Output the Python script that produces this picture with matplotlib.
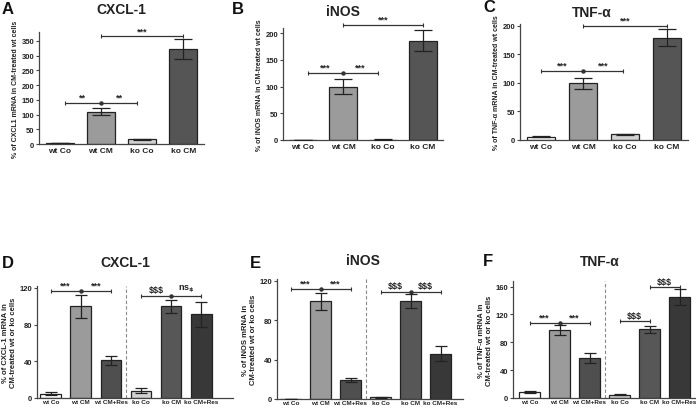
import matplotlib
matplotlib.use("Agg")
import matplotlib.pyplot as plt
from matplotlib import font_manager

plt.rcParams['font.family'] = ['Liberation Sans', 'DejaVu Sans']
plt.rcParams['font.weight'] = 'bold'

_names = {f.name for f in font_manager.fontManager.ttflist}
NARROW = ['Liberation Sans Narrow', 'Liberation Sans'] if 'Liberation Sans Narrow' in _names else ['Liberation Sans']

# ---------------- data ----------------
top_cats = ['wt Co', 'wt CM', 'ko Co', 'ko CM']
top_colors = ['#ffffff', '#9b9b9b', '#d2d2d2', '#555555']

cxcl_top = [3, 110, 16, 322]
cxcl_top_err = [1, 12, 2, 35]
inos_top = [0.4, 100, 0.7, 186]
inos_top_err = [0.2, 14, 0.3, 20]
tnf_top = [6, 99, 10, 179]
tnf_top_err = [1, 9.5, 1, 14.5]

bot_cats = ['wt Co', 'wt CM', 'wt CM+Res', 'ko Co', 'ko CM', 'ko CM+Res']
bot_colors = ['#ffffff', '#9b9b9b', '#4f4f4f', '#d2d2d2', '#575757', '#383838']

cxcl_bot = [4.5, 100, 41, 8, 100, 91]
cxcl_bot_err = [1.5, 12.5, 5, 2.4, 7, 14]
inos_bot = [0.3, 99.5, 19.5, 1.6, 99.5, 46]
inos_bot_err = [0.1, 8.7, 2.3, 0.5, 7.3, 7.5]
tnf_bot = [8.4, 98, 57, 5, 99, 145]
tnf_bot_err = [1, 7, 7, 0.8, 5, 12]

# significance brackets: (x0, xmid, x1, y, left label, right label)
A_brackets = [(0.12, 1, 1.88, 138, '**', '**'), (1, None, 3, 365, '***', None)]
B_brackets = [(0.12, 1, 1.88, 125, '***', '***'), (1, None, 3, 215, '***', None)]
C_brackets = [(0.0, 1, 1.95, 120, '***', '***'), (1, None, 3, 199, '***', None)]
D_brackets = [(0, 1, 2, 117, '***', '***'), (3, 4, 5, 111.5, '$$$', r'ns$_{\$}$')]
E_brackets = [(0, 1, 2, 112, '***', '***'), (3, 4, 5, 109, '$$$', '$$$')]
F_brackets = [(0, 1, 2, 108, '***', '***'), (3, None, 4, 110, '$$$', None),
              (4, None, 5, 159.5, '$$$', None)]

W, H = 696, 410
fig = plt.figure(figsize=(W / 100, H / 100), dpi=100)


def add_ax(l, t, r, b):
    return fig.add_axes([l / W, 1 - b / H, (r - l) / W, (b - t) / H])


def draw_brackets(ax, brackets, fs):
    for x0, xm, x1, y, lab1, lab2 in brackets:
        ax.plot([x0, x1], [y, y], color='#333333', lw=0.9, solid_capstyle='butt', clip_on=False)
        ax.plot([x0, x1], [y, y], ls='none', marker='|',
                ms=3.5, mew=0.8, color='#333333', clip_on=False)
        ymax = ax.get_ylim()[1]
        off = ymax * 0.012
        if xm is not None:
            ax.plot([xm], [y], marker='o', ms=2.2, color='#333333', clip_on=False)
            ax.text((x0 + xm) / 2, y + off, lab1, ha='center', va='bottom',
                    fontsize=fs, fontweight='bold', color='#222222')
            ax.text((xm + x1) / 2, y + off, lab2, ha='center', va='bottom',
                    fontsize=fs, fontweight='bold', color='#222222')
        else:
            ax.text((x0 + x1) / 2, y + off, lab1, ha='center', va='bottom',
                    fontsize=fs, fontweight='bold', color='#222222')


def panel(box, cats, vals, errs, colors, ylim, yticks, width, capsize,
          xlim, ylabel, title, letter, title_xy, letter_xy, brackets,
          tick_fs, xt_fs, yl_fs, br_fs, sep=None, xt_family=None, xt_pad=2):
    ax = add_ax(*box)
    x = list(range(len(cats)))
    ax.bar(x, vals, width=width, color=colors, edgecolor='#222222', linewidth=0.9, zorder=2)
    ax.errorbar(x, vals, yerr=errs, fmt='none', ecolor='#222222', elinewidth=0.9,
                capsize=capsize, capthick=0.9, zorder=3)
    ax.set_xlim(*xlim)
    ax.set_ylim(*ylim)
    ax.set_yticks(yticks)
    ax.set_xticks(x)
    if xt_family:
        ax.set_xticklabels(cats, fontsize=xt_fs, fontweight='bold', family=xt_family)
    else:
        ax.set_xticklabels(cats, fontsize=xt_fs, fontweight='bold')
    for lab in ax.get_yticklabels():
        lab.set_fontsize(tick_fs)
        lab.set_fontweight('bold')
    for s in ['top', 'right']:
        ax.spines[s].set_visible(False)
    for s in ['left', 'bottom']:
        ax.spines[s].set_color('#444444')
        ax.spines[s].set_linewidth(0.9)
    ax.tick_params(axis='y', length=2.5, width=0.8, pad=1, colors='#444444', labelcolor='#222222')
    ax.tick_params(axis='x', length=0, pad=xt_pad, labelcolor='#222222')
    ax.set_ylabel(ylabel, fontsize=yl_fs, fontweight='bold', labelpad=2, color='#222222')
    if sep is not None:
        ax.axvline(sep, color='#888888', lw=0.8, ls=(0, (3, 2)), zorder=1)
    draw_brackets(ax, brackets, br_fs)
    fig.text(title_xy[0] / W, 1 - title_xy[1] / H, title, ha='center', va='center',
             fontsize=10, fontweight='bold', color='#222222')
    fig.text(letter_xy[0] / W, 1 - letter_xy[1] / H, letter, ha='left', va='center',
             fontsize=12, fontweight='bold', color='#111111')
    return ax


# top row
panel((39, 33, 204, 145), top_cats, cxcl_top, cxcl_top_err, top_colors,
      (0, 380), [0, 50, 100, 150, 200, 250, 300, 350], 0.68, 6.5, (-0.5, 3.5),
      '% of CXCL1 mRNA in CM-treated wt cells', 'CXCL-1', 'A', (121, 10), (2, 9),
      A_brackets, 5.5, 6, 5, 6.5)
panel((283, 29, 443, 141), top_cats, inos_top, inos_top_err, top_colors,
      (0, 210), [0, 50, 100, 150, 200], 0.68, 6.5, (-0.5, 3.5),
      '% of iNOS mRNA in CM-treated wt cells', 'iNOS', 'B', (343, 12), (232, 9),
      B_brackets, 5.5, 6, 5, 6.5)
panel((520, 25, 688, 141), top_cats, tnf_top, tnf_top_err, top_colors,
      (0, 203), [0, 50, 100, 150, 200], 0.68, 6.5, (-0.5, 3.5),
      '% of TNF-α mRNA in CM-treated wt cells', 'TNF-α', 'C', (592, 13), (483, 8),
      C_brackets, 5.5, 6, 5, 6.5)

# bottom row
panel((37, 287, 233, 399), bot_cats, cxcl_bot, cxcl_bot_err, bot_colors,
      (0, 122), [0, 40, 80, 120], 0.68, 4.5, (-0.45, 6.05),
      '% of CXCL-1 mRNA in\nCM-treated wt or ko cells', 'CXCL-1', 'D', (125, 263), (2, 263),
      D_brackets, 5.5, 4.6, 5.5, 6.5, sep=2.5, xt_family=NARROW, xt_pad=1)
panel((277, 280, 463, 400), bot_cats, inos_bot, inos_bot_err, bot_colors,
      (0, 122), [0, 40, 80, 120], 0.68, 4.5, (-0.45, 5.75),
      '% of iNOS mRNA in\nCM-treated wt or ko cells', 'iNOS', 'E', (363, 261), (250, 263),
      E_brackets, 5.5, 4.6, 5.5, 6.5, sep=2.5, xt_family=NARROW, xt_pad=1)
panel((513, 282, 696, 399), bot_cats, tnf_bot, tnf_bot_err, bot_colors,
      (0, 168), [0, 40, 80, 120, 160], 0.68, 4.5, (-0.55, 5.55),
      '% of TNF-α mRNA in\nCM-treated wt or ko cells', 'TNF-α', 'F', (600, 262), (483, 262),
      F_brackets, 5.5, 4.6, 5.5, 6.5, sep=2.5, xt_family=NARROW, xt_pad=1)

fig.savefig('out.png', dpi=100, facecolor='white')
